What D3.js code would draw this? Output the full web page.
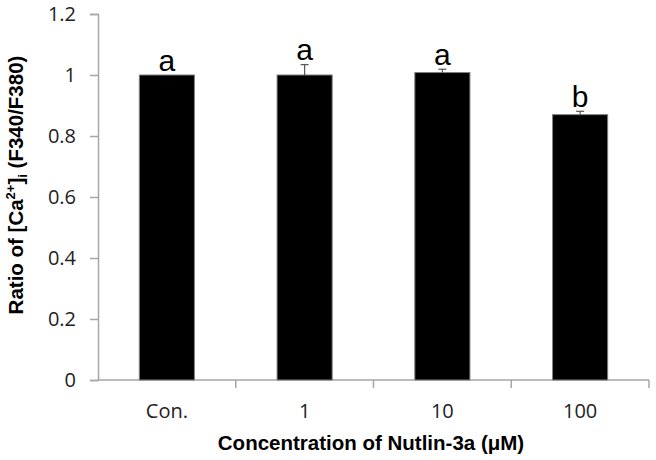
<!DOCTYPE html>
<html>
<head>
<meta charset="utf-8">
<script src="https://cdn.jsdelivr.net/npm/d3@7"></script>
<style>
  html, body { margin: 0; padding: 0; background: #fff; }
  svg { display: block; font-family: "Open Sans", "Noto Sans", sans-serif; }
</style>
</head>
<body>
<svg id="chart" width="656" height="460"></svg>
<script>
const categories = ["Con.", "1", "10", "100"];
const values = [1.0, 1.0, 1.008, 0.870];
const errors = [0.0, 0.034, 0.011, 0.011];
const letters = ["a", "a", "a", "b"];
const yTicks = [0, 0.2, 0.4, 0.6, 0.8, 1.0, 1.2];

const svg = d3.select("#chart");
const margin = { left: 98, right: 7, top: 14, bottom: 80 };
const W = 656, H = 460;
const x0 = margin.left, x1 = W - margin.right;
const y0 = H - margin.bottom, y1 = margin.top;

const x = d3.scaleBand().domain(categories).range([x0, x1]).paddingInner(0.6).paddingOuter(0.3);
const y = d3.scaleLinear().domain([0, 1.2]).range([y0, y1]);

const axisColor = "#a6a6a6";
const titleFont = '"Liberation Sans", Arial, sans-serif';

// Y axis
const yAxis = d3.axisLeft(y).tickValues(yTicks).tickSize(8).tickPadding(14)
  .tickFormat(d => d === 0 ? "0" : (Number.isInteger(d) ? String(d) : d3.format(".1f")(d)));
const gy = svg.append("g").attr("transform", `translate(${x0},0)`).call(yAxis);
gy.attr("font-family", null).attr("font-size", null);
gy.select(".domain").attr("stroke", axisColor).attr("stroke-width", 1.5);
gy.selectAll(".tick line").attr("stroke", axisColor).attr("stroke-width", 1.5);
gy.selectAll(".tick text").attr("fill", "#222").style("font-size", "20px");

// X axis
const xb = d3.scaleLinear().domain([0, categories.length]).range([x0, x1]);
const gx = svg.append("g").attr("transform", `translate(0,${y0})`);
gx.append("line").attr("x1", x0).attr("x2", x1).attr("stroke", axisColor).attr("stroke-width", 1.5);
gx.selectAll("line.tk").data(d3.range(1, categories.length + 1)).join("line")
  .attr("class", "tk")
  .attr("x1", d => xb(d)).attr("x2", d => xb(d))
  .attr("y1", 0).attr("y2", 8)
  .attr("stroke", axisColor).attr("stroke-width", 1.5);
gx.selectAll("text.cat").data(categories).join("text")
  .attr("class", "cat")
  .attr("x", d => x(d) + x.bandwidth() / 2)
  .attr("y", 38)
  .attr("text-anchor", "middle")
  .attr("fill", "#222")
  .style("font-size", "20px")
  .text(d => d);

// Bars
svg.selectAll("rect.bar").data(categories).join("rect")
  .attr("class", "bar")
  .attr("x", d => x(d))
  .attr("width", x.bandwidth())
  .attr("y", (d, i) => y(values[i]))
  .attr("height", (d, i) => y(0) - y(values[i]))
  .attr("fill", "#000")
  .attr("stroke", "#7f7f7f")
  .attr("stroke-width", 1);

// Error bars
const eb = svg.append("g");
categories.forEach((c, i) => {
  if (errors[i] <= 0) return;
  const cx = x(c) + x.bandwidth() / 2;
  eb.append("line").attr("x1", cx).attr("x2", cx)
    .attr("y1", y(values[i])).attr("y2", y(values[i] + errors[i]))
    .attr("stroke", "#555").attr("stroke-width", 1.2);
  eb.append("line").attr("x1", cx - 4).attr("x2", cx + 4)
    .attr("y1", y(values[i] + errors[i])).attr("y2", y(values[i] + errors[i]))
    .attr("stroke", "#555").attr("stroke-width", 1.2);
});

// Letters
svg.selectAll("text.sig").data(categories).join("text")
  .attr("class", "sig")
  .attr("x", d => x(d) + x.bandwidth() / 2)
  .attr("y", (d, i) => y(values[i] + errors[i]) - 4.5)
  .attr("text-anchor", "middle")
  .attr("fill", "#000")
  .style("font-family", titleFont)
  .style("font-size", "30px")
  .text((d, i) => letters[i]);

// X title
svg.append("text")
  .attr("x", 371)
  .attr("y", 450)
  .attr("text-anchor", "middle")
  .style("font-family", titleFont)
  .style("font-size", "20.5px")
  .style("font-weight", "bold")
  .attr("fill", "#000")
  .text("Concentration of Nutlin-3a (μM)");

// Y title
const yt = svg.append("text")
  .attr("transform", `translate(23,185) rotate(-90)`)
  .attr("text-anchor", "middle")
  .style("font-family", titleFont)
  .style("font-size", "20.5px")
  .style("font-weight", "bold")
  .attr("fill", "#000");
yt.append("tspan").text("Ratio of [Ca");
yt.append("tspan").attr("dy", -8).style("font-size", "13px").text("2+");
yt.append("tspan").attr("dy", 8).text("]");
yt.append("tspan").attr("dy", 4).style("font-size", "13px").text("i");
yt.append("tspan").attr("dy", -4).text(" (F340/F380)");
</script>
</body>
</html>
